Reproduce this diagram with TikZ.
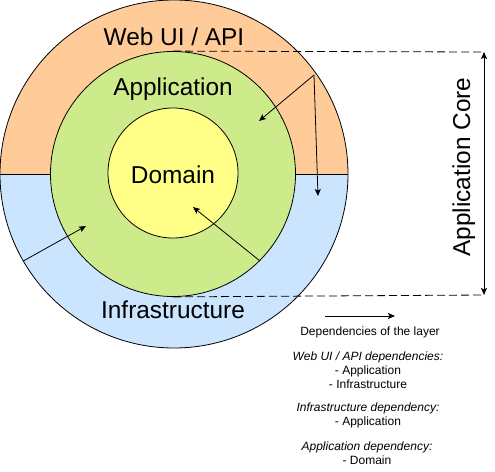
\documentclass[tikz,border=0pt]{standalone}
\usepackage{fontspec}
\setmainfont{Liberation Sans}
\usetikzlibrary{arrows.meta}

\definecolor{webfill}{HTML}{FFCC99}
\definecolor{infrafill}{HTML}{CCE5FF}
\definecolor{appfill}{HTML}{CDEB8B}
\definecolor{domainfill}{HTML}{FFFF88}

\begin{document}
\begin{tikzpicture}[
		x=1pt, y=-1pt,
		every node/.style={inner sep=0pt},
		layer/.style={circle, draw, line width=0.8pt, minimum size=#1},
		big/.style={font=\fontsize{24.4}{29}\selectfont},
		small/.style={font=\fontsize{12}{14}\selectfont, align=center},
		dep/.style={-{Stealth[length=7pt, width=6pt, inset=1.5pt]}, line width=0.8pt},
		bound/.style={dashed, dash pattern=on 8pt off 4pt, line width=0.8pt}
	]
  \useasboundingbox (0,0) rectangle (495,471);
  % layers
  \node (web) [layer=348pt, path picture={
      \fill[webfill] (path picture bounding box.north west) rectangle (path picture bounding box.east);
      \fill[infrafill] (path picture bounding box.west) rectangle (path picture bounding box.south east);
    }] at (174,174) {};
  \draw[line width=0.8pt] (web.west) -- (web.east);
  \node (app) [layer=245pt, fill=appfill] at (173,174) {};
  \node (domain) [layer=130pt, fill=domainfill] at (173,173) {};
  \node (web_label) [big, anchor=base] at (174,45) {Web UI / API};
  \node (app_label) [big, anchor=base] at (173,95) {Application};
  \node (domain_label) [big, anchor=base] at (173,183) {Domain};
  \node (infra_label) [big, anchor=base] at (173,318) {Infrastructure};
  % dependencies
  \coordinate (web_src) at (314,75);
  \coordinate (web_to_app) at (259,121);
  \coordinate (web_to_infra) at (318,196);
  \coordinate (infra_to_app) at (86,226);
  \coordinate (app_to_domain) at (193,207);
  \draw[dep] (web_src) -- (web_to_app);
  \draw[dep] (web_src) -- (web_to_infra);
  \draw[dep] (web.210) -- (infra_to_app);
  \draw[dep] (app.south east) -- (app_to_domain);
  % application core
  \coordinate (core_top) at (484,52);
  \coordinate (core_bot) at (484,295);
  \draw[bound] (app.north) -- (core_top);
  \draw[bound] (app.south) -- (core_bot);
  \draw[{Stealth[length=7pt, width=6pt, inset=1.5pt]}-{Stealth[length=7pt, width=6pt, inset=1.5pt]}, line width=0.8pt] (core_top) -- (core_bot);
  \node (core_label) [big, rotate=90, anchor=base] at (470,167) {Application Core};
  % legend
  \coordinate (key_a) at (325,316);
  \coordinate (key_b) at (395,316);
  \draw[dep] (key_a) -- (key_b);
  \node (key_label) [small, anchor=north] at (370,327) {Dependencies of the layer};
  \node (web_deps) [small, anchor=north] at (368,352) {\textit{Web UI / API dependencies:}\\- Application\\- Infrastructure};
  \node (infra_deps) [small, anchor=north] at (368,403) {\textit{Infrastructure dependency:}\\- Application};
  \node (app_deps) [small, anchor=north] at (367,442) {\textit{Application dependency:}\\- Domain};
\end{tikzpicture}
\end{document}
